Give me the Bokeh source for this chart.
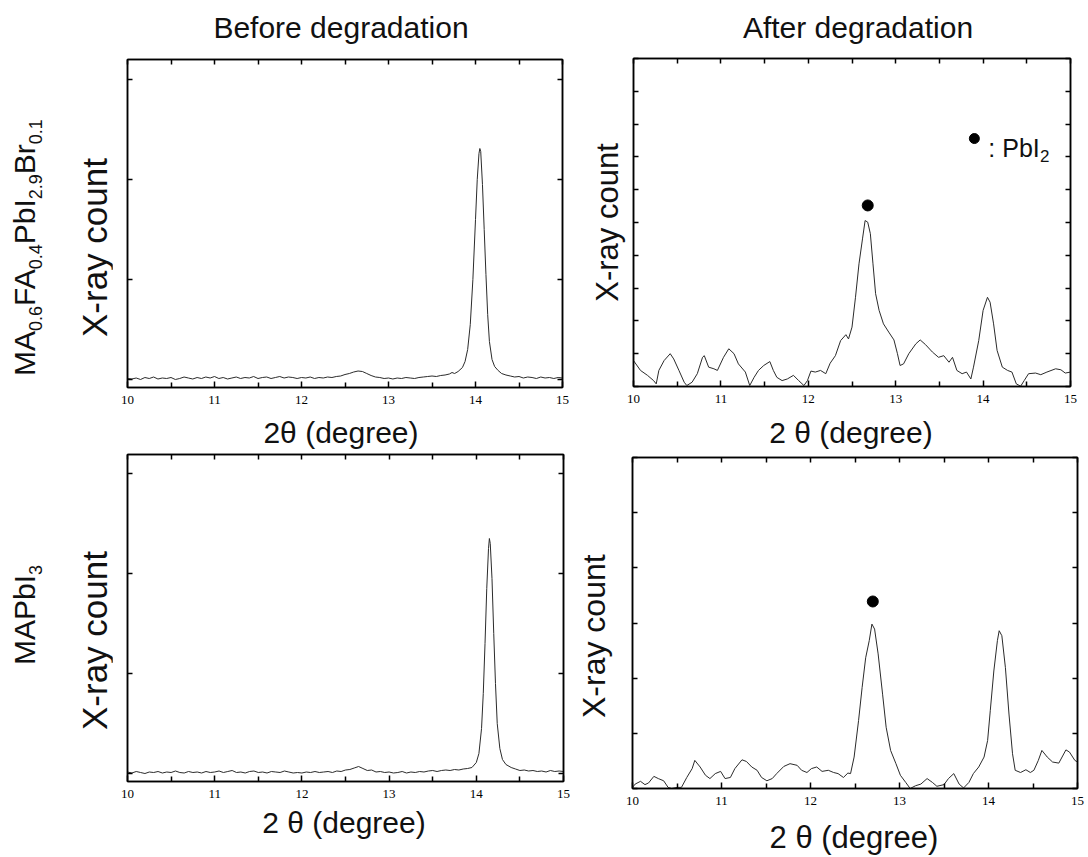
from bokeh.plotting import figure
from bokeh.models import Range1d, LinearAxis, FixedTicker, Label, Div
from bokeh.layouts import row, column
from bokeh.embed import file_html
from bokeh.resources import INLINE

# ---------------- data ----------------
x_ticks = [10, 11, 12, 13, 14, 15]
x_minor = [10.5, 11.5, 12.5, 13.5, 14.5]

# top-left: MA0.6FA0.4PbI2.9Br0.1, before degradation
tl_x = [10.00, 10.05, 10.10, 10.15, 10.20, 10.25, 10.30, 10.35, 10.40, 10.45, 10.50, 10.55, 10.60, 10.65,
        10.70, 10.75, 10.80, 10.85, 10.90, 10.95, 11.00, 11.05, 11.10, 11.15, 11.20, 11.25, 11.30, 11.35,
        11.40, 11.45, 11.50, 11.55, 11.60, 11.65, 11.70, 11.75, 11.80, 11.85, 11.90, 11.95, 12.00, 12.05,
        12.10, 12.15, 12.20, 12.25, 12.30, 12.35, 12.40, 12.45, 12.50, 12.55, 12.60, 12.65, 12.70, 12.75,
        12.80, 12.85, 12.90, 12.95, 13.00, 13.05, 13.10, 13.15, 13.20, 13.25, 13.30, 13.35, 13.40, 13.45,
        13.50, 13.55, 13.60, 13.65, 13.70, 13.73, 13.76, 13.80, 13.85, 13.88, 13.91, 13.94, 13.97, 14.00,
        14.02, 14.04, 14.05, 14.06, 14.08, 14.10, 14.12, 14.14, 14.16, 14.19, 14.22, 14.26, 14.30, 14.35,
        14.40, 14.45, 14.50, 14.55, 14.60, 14.65, 14.70, 14.75, 14.80, 14.85, 14.90, 14.95, 15.00]
tl_y = [10, 5, 15, 0, 20, 10, 25, 5, 15, 10, 20, 0, 10, 25,
        15, 5, 20, 10, 25, 15, 30, 10, 20, 5, 15, 25, 10, 20,
        15, 30, 10, 20, 25, 10, 20, 30, 15, 25, 20, 10, 20, 15,
        25, 10, 20, 15, 25, 20, 30, 35, 50, 60, 75, 85, 80, 60,
        40, 25, 20, 10, 15, 5, 15, 10, 20, 15, 10, 20, 25, 30,
        35, 30, 40, 45, 55, 70, 60, 80, 120, 180, 300, 550, 1000, 1600,
        2000, 2260, 2310, 2280, 1950, 1500, 1050, 650, 380, 200, 130, 90, 60, 45,
        35, 25, 30, 15, 25, 20, 10, 25, 15, 20, 10, 20, 15]

# top-right: MA0.6FA0.4PbI2.9Br0.1, after degradation
tr_x = [10.00, 10.08, 10.16, 10.23, 10.26, 10.29, 10.35, 10.42, 10.46, 10.52, 10.58, 10.61, 10.67, 10.73,
        10.79, 10.81, 10.86, 10.92, 10.96, 11.03, 11.09, 11.15, 11.20, 11.28, 11.33, 11.38, 11.43, 11.49,
        11.56, 11.60, 11.64, 11.70, 11.76, 11.83, 11.89, 11.95, 11.99, 12.03, 12.08, 12.14, 12.20, 12.25,
        12.31, 12.37, 12.43, 12.46, 12.50, 12.54, 12.58, 12.62, 12.65, 12.68, 12.71, 12.74, 12.77, 12.81,
        12.86, 12.92, 12.98, 13.02, 13.05, 13.09, 13.15, 13.23, 13.28, 13.34, 13.42, 13.49, 13.55, 13.61,
        13.65, 13.70, 13.76, 13.81, 13.86, 13.89, 13.95, 14.00, 14.05, 14.08, 14.12, 14.16, 14.22, 14.28,
        14.33, 14.38, 14.43, 14.47, 14.52, 14.60, 14.66, 14.73, 14.83, 14.89, 14.94, 15.00]
tr_y = [79, 49, 34, 18, 8, 49, 79, 100, 84, 49, 13, 3, 13, 39,
        89, 94, 59, 54, 49, 89, 115, 100, 69, 44, 3, 28, 49, 64,
        76, 49, 28, 18, 23, 34, 18, 3, 18, 47, 44, 49, 39, 71,
        94, 140, 158, 145, 181, 272, 374, 450, 506, 501, 466, 374, 283, 232,
        191, 166, 142, 100, 64, 69, 100, 130, 142, 128, 105, 89, 94, 74,
        89, 49, 39, 44, 23, 59, 140, 232, 272, 257, 191, 110, 59, 49,
        44, 8, 1, 18, 39, 41, 36, 44, 54, 51, 41, 44]

# bottom-left: MAPbI3, before degradation
bl_x = [10.00, 10.05, 10.10, 10.15, 10.20, 10.25, 10.30, 10.35, 10.40, 10.45, 10.50, 10.55, 10.60, 10.65,
        10.70, 10.75, 10.80, 10.85, 10.90, 10.95, 11.00, 11.05, 11.10, 11.15, 11.20, 11.25, 11.30, 11.35,
        11.40, 11.45, 11.50, 11.55, 11.60, 11.65, 11.70, 11.75, 11.80, 11.85, 11.90, 11.95, 12.00, 12.05,
        12.10, 12.15, 12.20, 12.25, 12.30, 12.35, 12.40, 12.45, 12.50, 12.55, 12.60, 12.65, 12.70, 12.75,
        12.80, 12.85, 12.90, 12.95, 13.00, 13.05, 13.10, 13.15, 13.20, 13.25, 13.30, 13.35, 13.40, 13.45,
        13.50, 13.55, 13.60, 13.65, 13.70, 13.75, 13.80, 13.85, 13.90, 13.95, 14.00, 14.03, 14.06, 14.08,
        14.10, 14.12, 14.14, 14.15, 14.16, 14.18, 14.20, 14.22, 14.24, 14.27, 14.30, 14.34, 14.40, 14.45,
        14.50, 14.55, 14.60, 14.65, 14.70, 14.75, 14.80, 14.85, 14.90, 14.95, 15.00]
bl_y = [15, 5, 20, 10, 0, 15, 10, 20, 5, 15, 10, 25, 10, 5,
        20, 10, 15, 5, 20, 10, 15, 25, 10, 20, 30, 10, 15, 5,
        20, 25, 10, 15, 5, 20, 15, 10, 25, 15, 5, 10, 5, 15,
        10, 20, 10, 15, 20, 10, 25, 20, 35, 40, 55, 70, 50, 30,
        35, 15, 20, 10, 15, 5, 10, 20, 5, 15, 10, 20, 15, 25,
        30, 20, 30, 35, 30, 40, 35, 45, 50, 60, 110, 200, 450, 800,
        1300, 1850, 2250, 2350, 2300, 1950, 1400, 900, 500, 250, 140, 90, 60, 45,
        30, 35, 25, 30, 20, 25, 15, 30, 20, 25, 20]

# bottom-right: MAPbI3, after degradation
br_x = [10.00, 10.03, 10.09, 10.14, 10.18, 10.24, 10.29, 10.35, 10.40, 10.44, 10.50, 10.55, 10.61, 10.67,
        10.70, 10.76, 10.82, 10.87, 10.93, 10.99, 11.04, 11.10, 11.15, 11.23, 11.28, 11.34, 11.40, 11.45,
        11.51, 11.57, 11.62, 11.70, 11.77, 11.85, 11.90, 11.96, 12.01, 12.07, 12.13, 12.20, 12.26, 12.31,
        12.37, 12.42, 12.45, 12.49, 12.54, 12.58, 12.62, 12.66, 12.69, 12.72, 12.76, 12.81, 12.85, 12.90,
        12.96, 13.01, 13.07, 13.12, 13.18, 13.24, 13.31, 13.37, 13.42, 13.50, 13.55, 13.61, 13.67, 13.72,
        13.78, 13.83, 13.89, 13.95, 13.99, 14.02, 14.06, 14.10, 14.12, 14.15, 14.19, 14.23, 14.27, 14.30,
        14.36, 14.42, 14.47, 14.51, 14.56, 14.60, 14.66, 14.72, 14.79, 14.87, 14.91, 14.97, 15.00]
br_y = [2, 8, 13, 7, 10, 22, 18, 14, 2, 0, 2, 2, 20, 36,
        51, 39, 24, 18, 27, 31, 18, 20, 36, 52, 49, 39, 33, 20,
        14, 18, 27, 40, 45, 42, 33, 29, 36, 39, 31, 33, 29, 27,
        20, 28, 27, 57, 123, 183, 237, 268, 298, 289, 244, 171, 111, 69,
        45, 24, 11, 0, 5, 8, 18, 11, 4, 7, 18, 27, 8, 1,
        11, 27, 39, 57, 87, 141, 213, 268, 286, 277, 219, 135, 63, 33,
        29, 34, 29, 33, 51, 69, 57, 48, 46, 70, 66, 51, 48]

# PbI2 peak markers
tr_dot_x = [12.68]
tr_dot_y = [552]
br_dot_x = [12.70]
br_dot_y = [339]

col_titles = ["Before degradation", "After degradation"]
row_label_html = ["MA<S>0.6</S>FA<S>0.4</S>PbI<S>2.9</S>Br<S>0.1</S>", "MAPbI<S>3</S>"]
y_label = "X-ray count"
x_labels = ["2\u03b8 (degree)", "2 \u03b8 (degree)", "2 \u03b8 (degree)", "2 \u03b8 (degree)"]

# ---------------- styling / layout ----------------
SANS = "Liberation Sans"
SERIF = "Liberation Serif"
LINE = "#2b2b2b"
INK = "#111111"
FONT_CSS = "font-family:'Liberation Sans';line-height:1;color:#111;white-space:nowrap;"


def make_fig(width, height, bl, br, bt, bb, yr, yticks, ylabel=None, ysize=None, ystand=0):
    p = figure(width=width, height=height, x_range=Range1d(10, 15), y_range=Range1d(*yr),
               output_backend="svg", toolbar_location=None, title=None,
               x_axis_location=None, y_axis_location=None,
               min_border_left=bl, min_border_right=br, min_border_top=bt, min_border_bottom=bb)
    p.grid.visible = False
    p.outline_line_color = "black"
    p.outline_line_width = 1.5
    # bottom axis with tick labels
    xb = LinearAxis(ticker=FixedTicker(ticks=x_ticks, minor_ticks=x_minor))
    xb.major_tick_in, xb.major_tick_out = 6, 0
    xb.minor_tick_in, xb.minor_tick_out = 5, 0
    xb.axis_line_width = 1.5
    xb.major_tick_line_width = 1.5
    xb.minor_tick_line_width = 1.5
    xb.major_label_text_font = SERIF
    xb.major_label_text_font_size = "13px"
    xb.major_label_text_color = "black"
    xb.major_label_standoff = 8
    p.add_layout(xb, "below")
    # top axis, ticks only
    xa = LinearAxis(ticker=FixedTicker(ticks=[], minor_ticks=x_ticks + x_minor))
    xa.minor_tick_in, xa.minor_tick_out = 5, 0
    xa.minor_tick_line_width = 1.5
    xa.axis_line_width = 1.5
    xa.major_label_standoff = 0
    p.add_layout(xa, "above")
    # left / right axes, ticks only
    for loc in ("left", "right"):
        ax = LinearAxis(ticker=FixedTicker(ticks=[], minor_ticks=yticks))
        ax.minor_tick_in, ax.minor_tick_out = 5, 0
        ax.minor_tick_line_width = 1.5
        ax.axis_line_width = 1.5
        ax.major_label_standoff = 0
        if loc == "left" and ylabel:
            ax.axis_label = ylabel
            ax.axis_label_text_font = SANS
            ax.axis_label_text_font_style = "normal"
            ax.axis_label_text_font_size = ysize
            ax.axis_label_text_color = INK
            ax.axis_label_standoff = ystand
        p.add_layout(ax, loc)
    return p


def rot(left, bottom, size, html):
    return ('<div style="position:absolute;left:%dpx;top:%dpx;width:600px;'
            'transform-origin:0 0;transform:rotate(-90deg);font-size:%dpx;%s">%s</div>'
            % (left, bottom, size, FONT_CSS, html))


def hdiv(width, height, cx, cy, size, text):
    inner = ('<div style="position:absolute;left:%dpx;top:%dpx;width:400px;text-align:center;'
             'font-size:%dpx;%s">%s</div>' % (cx - 200, cy - size // 2, size, FONT_CSS, text))
    return Div(width=width, height=height, margin=0,
               text='<div style="position:relative;width:%dpx;height:%dpx;">%s</div>' % (width, height, inner))


def side_div(height, label_html, label_bottom, ylab_bottom):
    txt = label_html.replace("<S>", '<span style="font-size:18px;position:relative;top:7px;">').replace("</S>", "</span>")
    html = ('<div style="position:relative;width:112px;height:%dpx;">' % height
            + rot(10, label_bottom, 30, txt) + rot(77, ylab_bottom, 35, y_label) + "</div>")
    return Div(width=112, height=height, margin=0, text=html)


def gap_div(width, height, left, bottom, size):
    html = ('<div style="position:relative;width:%dpx;height:%dpx;">' % (width, height)
            + rot(left, bottom, size, y_label) + "</div>")
    return Div(width=width, height=height, margin=0, text=html)


# Top-left  (page x 112..582)
TL = make_fig(470, 372, 15, 20, 14, 30, (-80, 3200), [0, 1000, 2000, 3000])
TL.line(tl_x, tl_y, line_color=LINE, line_width=1)
TL_col = column(hdiv(470, 45, 341 - 112, 28, 30, col_titles[0]), TL,
                hdiv(470, 35, 341 - 112, 16, 30, x_labels[0]))

# Top-right  (page x 582..1088)
TR = make_fig(506, 372, 51, 18, 13, 31, (0, 1000), list(range(0, 1001, 100)), y_label, "31px", 9)
TR.line(tr_x, tr_y, line_color=LINE, line_width=1)
TR.scatter(tr_dot_x, tr_dot_y, size=11, color="black")
# legend "● : PbI2"
TR.scatter([13.90], [756], size=10, color="black")
TR.add_layout(Label(x=14.06, y=726, text=": PbI", text_font=SANS, text_font_size="25px",
                    text_align="left", text_baseline="alphabetic", text_color=INK))
TR.add_layout(Label(x=14.65, y=704, text="2", text_font=SANS, text_font_size="17px",
                    text_align="left", text_baseline="alphabetic", text_color=INK))
TR_col = column(hdiv(506, 45, 858 - 582, 28, 30, col_titles[1]), TR,
                hdiv(506, 35, 851 - 582, 16, 30, x_labels[1]))

# Bottom-left  (page x 112..570, y 452..857)
BL = make_fig(458, 358, 15, 7, 2, 29, (-80, 3190), [0, 1000, 2000, 3000])
BL.line(bl_x, bl_y, line_color=LINE, line_width=1)
BL_col = column(BL, hdiv(458, 47, 344 - 112, 13, 30, x_labels[2]))

# Bottom-right  (page x 618..1088)
BR = make_fig(470, 366, 14, 11, 5, 30, (0, 600), [0, 100, 200, 300, 400, 500, 600])
BR.line(br_x, br_y, line_color=LINE, line_width=1)
BR.scatter(br_dot_x, br_dot_y, size=11, color="black")
BR_col = column(BR, hdiv(470, 39, 854 - 618, 19, 31, x_labels[3]))

D1 = side_div(452, row_label_html[0], 376, 337)
D2 = side_div(405, row_label_html[1], 213, 278)
D3 = gap_div(48, 405, 8, 266, 32)

layout = column(row(D1, TL_col, TR_col), row(D2, BL_col, D3, BR_col))
open("out.html", "w").write(file_html(layout, INLINE))
